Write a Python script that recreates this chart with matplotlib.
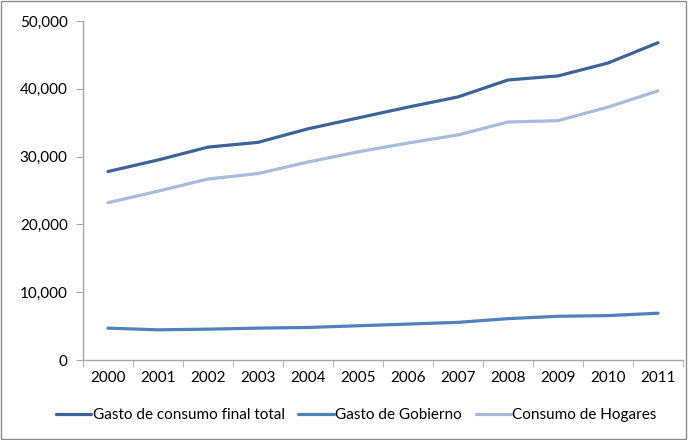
import matplotlib.pyplot as plt
from matplotlib.patches import Rectangle
from matplotlib.ticker import FuncFormatter

years = ['2000', '2001', '2002', '2003', '2004', '2005',
         '2006', '2007', '2008', '2009', '2010', '2011']
total = [27800, 29500, 31400, 32100, 34100, 35700,
         37300, 38800, 41300, 41900, 43800, 46800]
gobierno = [4700, 4450, 4550, 4700, 4800, 5050,
            5300, 5550, 6100, 6450, 6550, 6900]
hogares = [23200, 24900, 26700, 27500, 29200, 30700,
           32000, 33200, 35100, 35300, 37300, 39700]
labels = ['Gasto de consumo final total', 'Gasto de Gobierno', 'Consumo de Hogares']
colors = ['#3B6499', '#4F81BD', '#A7BBDC']


def main():
    plt.rcParams['font.family'] = ['Lato', 'DejaVu Sans']
    fig = plt.figure(figsize=(6.88, 4.4), dpi=100)
    ax = fig.add_axes([83 / 688, 80 / 440, 600 / 688, 339 / 440])

    x = range(len(years))
    for series, label, color in zip([total, gobierno, hogares], labels, colors):
        ax.plot(x, series, color=color, linewidth=2.3, label=label,
                solid_capstyle='round', solid_joinstyle='round')

    ax.set_xlim(-0.5, len(years) - 0.5)
    ax.set_ylim(0, 50000)
    ax.set_yticks(range(0, 50001, 10000))
    ax.yaxis.set_major_formatter(FuncFormatter(lambda v, p: f'{int(v):,}'))
    ax.set_xticks(list(x))
    ax.set_xticklabels(years)
    ax.set_xticks([i - 0.5 for i in range(len(years) + 1)], minor=True)
    ax.tick_params(axis='x', which='major', length=0, pad=8, labelsize=11, colors='#000000')
    ax.tick_params(axis='x', which='minor', length=5, color='#A6A6A6')
    ax.tick_params(axis='y', length=5, color='#A6A6A6', labelsize=11, pad=6)

    for side in ['top', 'right']:
        ax.spines[side].set_visible(False)
    for side in ['left', 'bottom']:
        ax.spines[side].set_color('#A6A6A6')
        ax.spines[side].set_linewidth(1)

    fig.legend(loc='center', bbox_to_anchor=(0.518, 0.057), ncol=3, frameon=False,
               fontsize=11, handlelength=2.3, handletextpad=0.1, columnspacing=0.9)

    fig.patches.append(Rectangle((0.001, 0.003), 0.996, 0.994, transform=fig.transFigure,
                                 fill=False, edgecolor='#8C8C8C', linewidth=1))

    fig.savefig('out.png', dpi=100)


if __name__ == "__main__":
    main()
